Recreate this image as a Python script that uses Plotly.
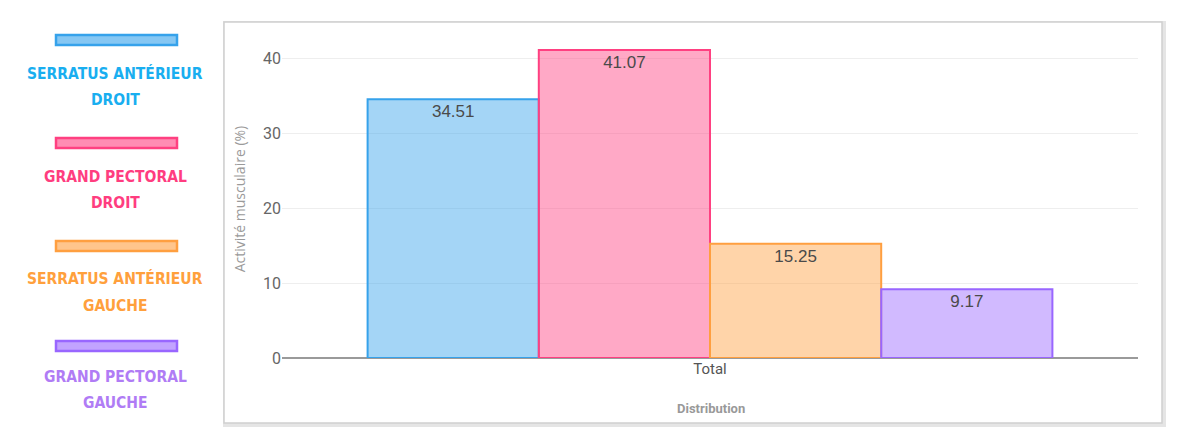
import plotly.graph_objects as go

# Données
categories = ["Total"]
series = ["SERRATUS ANTÉRIEUR<br>DROIT", "GRAND PECTORAL<br>DROIT",
          "SERRATUS ANTÉRIEUR<br>GAUCHE", "GRAND PECTORAL<br>GAUCHE"]
valeurs = [34.51, 41.07, 15.25, 9.17]
y_ticks = [0, 10, 20, 30, 40]

bordures = ["rgb(54,162,235)", "rgb(255,64,129)", "rgb(255,159,64)", "rgb(153,102,255)"]
remplissages = ["rgba(54,162,235,0.45)", "rgba(255,64,129,0.45)",
                "rgba(255,159,64,0.45)", "rgba(153,102,255,0.45)"]
legende_fond = ["rgba(54,162,235,0.6)", "rgba(255,64,129,0.6)",
                "rgba(255,159,64,0.6)", "rgba(153,102,255,0.6)"]
couleurs_texte = ["#19aef0", "#ff3d7f", "#ffa03c", "#b07cf5"]

W, H = 1200, 447


def px(x):
    return x / W


def py(y):
    return 1 - y / H


fig = go.Figure()
for nom, v, b, f in zip(series, valeurs, bordures, remplissages):
    fig.add_trace(go.Bar(
        x=categories, y=[v], name=nom.replace("<br>", " "),
        marker=dict(color=f, line=dict(color=b, width=2)),
        text=[f"{v:.2f}"], textposition="inside", insidetextanchor="end",
        textangle=0, constraintext="none",
        textfont=dict(family="Liberation Sans, Arial", size=17, color="#4a4a4a"),
        showlegend=False,
    ))

shapes = []
# carte (ombre + bord)
shapes.append(dict(type="rect", xref="paper", yref="paper",
                   x0=px(225), x1=px(1164), y0=py(425), y1=py(23),
                   line=dict(color="rgba(0,0,0,0.10)", width=4), layer="below"))
shapes.append(dict(type="rect", xref="paper", yref="paper",
                   x0=px(224), x1=px(1162), y0=py(423), y1=py(22),
                   line=dict(color="#d0d0d0", width=1.5), fillcolor="white",
                   layer="below"))

# légende personnalisée à gauche
leg_rect_y = [35, 138, 241, 341]
leg_lignes_y = [(73, 100), (177, 203), (278, 306), (377, 403)]
annotations = []
for i, nom in enumerate(series):
    shapes.append(dict(type="rect", xref="paper", yref="paper",
                       x0=px(56), x1=px(177),
                       y0=py(leg_rect_y[i] + 10), y1=py(leg_rect_y[i]),
                       fillcolor=legende_fond[i],
                       line=dict(color=bordures[i], width=2.5)))
    for ligne, yl in zip(nom.split("<br>"), leg_lignes_y[i]):
        annotations.append(dict(xref="paper", yref="paper", x=px(115), y=py(yl),
                                text=f"<b>{ligne}</b>", showarrow=False,
                                xanchor="center", yanchor="middle",
                                font=dict(family="DejaVu Sans Condensed", size=15.5,
                                          color=couleurs_texte[i])))

annotations.append(dict(xref="paper", yref="paper", x=px(711), y=py(408),
                        text="<b>Distribution</b>", showarrow=False,
                        xanchor="center", yanchor="middle",
                        font=dict(family="Roboto", size=13, color="#999")))

fig.update_layout(
    width=W, height=H,
    margin=dict(l=0, r=0, t=0, b=0),
    paper_bgcolor="white", plot_bgcolor="white",
    barmode="group", bargap=0.2, bargroupgap=0,
    shapes=shapes, annotations=annotations,
    xaxis=dict(domain=[px(282), px(1138)], showgrid=False, showline=False,
               automargin=False, ticks="",
               tickfont=dict(family="Roboto", size=15, color="#555")),
    yaxis=dict(domain=[py(358), py(40)], range=[0, 42.4], tickvals=y_ticks,
               automargin=False,
               showgrid=True, gridcolor="#eeeeee", gridwidth=1,
               zeroline=True, zerolinecolor="#9a9a9a", zerolinewidth=2,
               ticks="", ticklabelstandoff=0,
               tickfont=dict(family="Roboto", size=16, color="#666"),
               title=dict(text="Activité musculaire (%)", standoff=14,
                          font=dict(family="Open Sans", size=14, color="#9a9a9a"))),
)

fig.write_html("out.html", config={"displayModeBar": False},
               post_script="document.body.style.margin='0';document.body.style.overflow='hidden';")
